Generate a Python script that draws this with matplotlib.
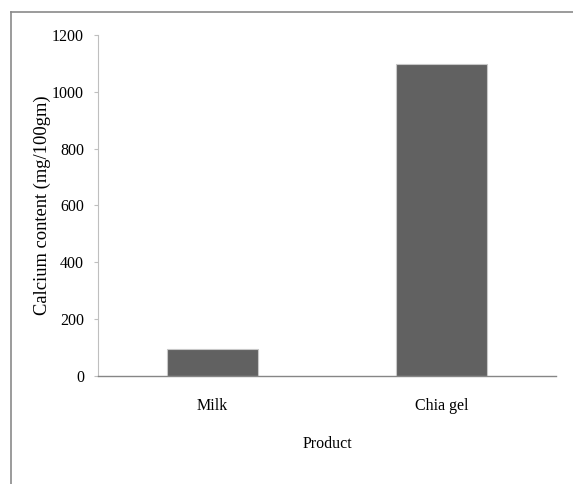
import matplotlib
matplotlib.use("Agg")
import matplotlib.pyplot as plt
from matplotlib.lines import Line2D

# data
products = ["Milk", "Chia gel"]
calcium = [94, 1098]
yticks = [0, 200, 400, 600, 800, 1000, 1200]

plt.rcParams['font.family'] = ['Liberation Serif', 'DejaVu Serif']
plt.rcParams['font.size'] = 11.5

fig = plt.figure(figsize=(5.73, 4.84), dpi=100)
ax = fig.add_axes([98/573, 1 - 376/484, (556 - 98)/573, (376 - 35)/484])

ax.bar(range(len(products)), calcium, width=0.40, color='#616161',
       edgecolor='#c8c8c8', linewidth=0.8)

ax.set_xlim(-0.5, len(products) - 0.5)
ax.set_ylim(0, 1200)
ax.set_yticks(yticks)
ax.set_xticks(range(len(products)))
ax.set_xticklabels(products)

for s in ['top', 'right']:
    ax.spines[s].set_visible(False)
ax.spines['left'].set_color('#bfbfbf')
ax.spines['bottom'].set_color('#868686')
ax.spines['bottom'].set_linewidth(1.0)
ax.tick_params(axis='y', length=3, width=0.8, color='#bfbfbf', pad=7)
ax.tick_params(axis='x', length=0, pad=16)

ax.set_ylabel("Calcium content (mg/100gm)", fontsize=13.3, labelpad=1)
ax.set_xlabel("Product", labelpad=16)

# outer frame (top and left edges)
fig.add_artist(Line2D([11/573, 11/573], [0, 1 - 12/484], transform=fig.transFigure,
                      color='#8a8a8a', linewidth=1.2))
fig.add_artist(Line2D([11/573, 1], [1 - 12/484, 1 - 12/484], transform=fig.transFigure,
                      color='#8a8a8a', linewidth=1.2))

fig.savefig("out.png", dpi=100)
